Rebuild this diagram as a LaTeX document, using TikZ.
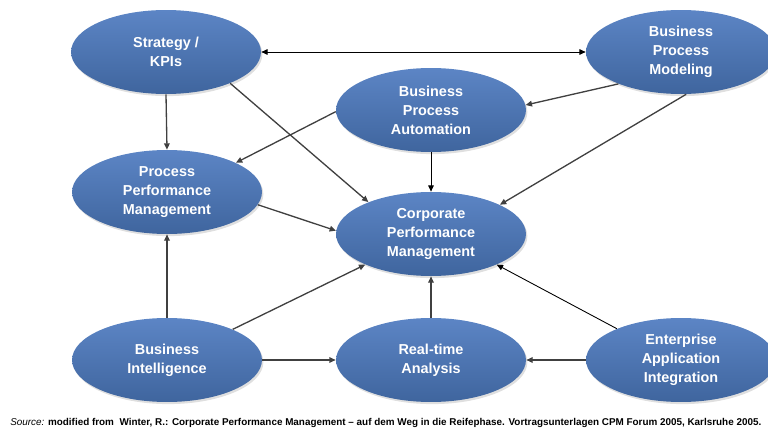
\documentclass[tikz,border=0pt]{standalone}
\usepackage{fontspec}
\setmainfont{Liberation Sans}
\usepackage{tikz}
\usetikzlibrary{shapes,arrows.meta,shadows}

\definecolor{ovaltop}{HTML}{5C85C5}
\definecolor{ovalbot}{HTML}{3F659E}
\definecolor{linkgray}{HTML}{404040}

\begin{document}
\begin{tikzpicture}[
    x=0.02cm, y=-0.02cm,
    topic/.style={ellipse, minimum width=3.8cm, minimum height=1.68cm, inner sep=0pt,
        top color=ovaltop, bottom color=ovalbot, draw=none,
        drop shadow={shadow xshift=0.8pt, shadow yshift=-1.2pt, opacity=0.25},
        text=white, align=center, font=\fontsize{8.2}{10.8}\selectfont\bfseries},
    link/.style={draw=linkgray, line width=0.75pt, -{Triangle[length=3.6pt,width=3.2pt]}},
    thinlink/.style={draw=black, line width=0.5pt, -{Triangle[length=3.6pt,width=3.2pt]}}
]
    \useasboundingbox (0,0) rectangle (768,432);

    % Top row
    \node[topic] (strat) at (166,52) {Strategy /\\KPIs};
    \node[topic] (bpmod) at (681,52) {Business\\Process\\Modeling};
    \node[topic] (bpaut) at (431,110) {Business\\Process\\Automation};

    % Middle row
    \node[topic] (ppm) at (167,192) {Process\\Performance\\Management};
    \node[topic] (cpm) at (431,234) {Corporate\\Performance\\Management};

    % Bottom row
    \node[topic] (bi) at (167,360) {Business\\Intelligence};
    \node[topic] (rta) at (431,360) {Real-time\\Analysis};
    \node[topic] (eai) at (681,360) {Enterprise\\Application\\Integration};

    % Source
    \node[anchor=west, inner sep=0pt, font=\fontsize{5.63}{6.5}\selectfont] (src) at (10,423)
        {\textit{Source:} \textbf{modified from\ \ Winter, R.: Corporate Performance Management -- auf dem Weg in die Reifephase. Vortragsunterlagen CPM Forum 2005, Karlsruhe 2005.}};

    % Connections
    \draw[thinlink, {Triangle[length=3.6pt,width=3.2pt]}-{Triangle[length=3.6pt,width=3.2pt]}] (strat.east) -- (bpmod.west);
    \draw[link] (strat.south) -- (ppm.north);
    \draw[link] (strat.-26) -- (cpm.153);
    \draw[link] (bpmod.-153) -- (bpaut.3);
    \draw[link] (bpmod.-83) -- (cpm.23);
    \draw[link] (bpaut.181) -- (ppm.23);
    \draw[thinlink] (bpaut.south) -- (cpm.north);
    \draw[link] (ppm.-8) -- (cpm.178);
    \draw[link] (bi.north) -- (ppm.south);
    \draw[link] (bi.25) -- (cpm.205);
    \draw[link] (bi.east) -- (rta.west);
    \draw[link] (rta.north) -- (cpm.south);
    \draw[link] (eai.west) -- (rta.east);
    \draw[thinlink] (eai.154) -- (cpm.-25);
\end{tikzpicture}
\end{document}
